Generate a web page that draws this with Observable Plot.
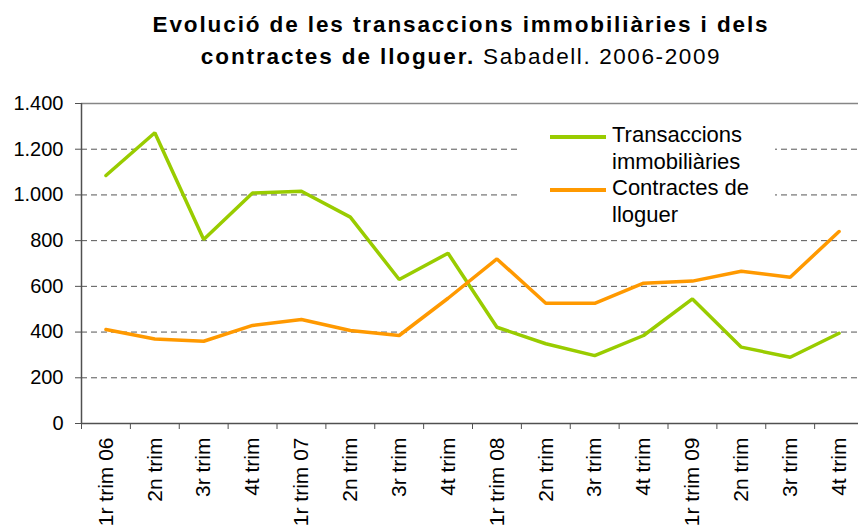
<!DOCTYPE html>
<html>
<head>
<meta charset="utf-8">
<script src="https://cdn.jsdelivr.net/npm/d3@7"></script>
<script src="https://cdn.jsdelivr.net/npm/@observablehq/plot@0.6"></script>
<style>
  html, body { margin: 0; padding: 0; background: #fff; }
  #wrap { position: relative; width: 858px; height: 525px; overflow: hidden; font-family: "Liberation Sans", Arial, sans-serif; color: #000; }
  #title { position: relative; height: 80px; }
  #title .t { position: absolute; left: 64px; width: 794px; top: 9px; text-align: center; font-size: 22.5px; line-height: 32px; letter-spacing: 1.6px; white-space: nowrap; }
  #title .t b { letter-spacing: 1.9px; }
  #legend { position: absolute; left: 519px; top: 115px; width: 256px; height: 114px; background: #fff; }
  .item { position: absolute; left: 0; width: 256px; }
  .sw { position: absolute; left: 31px; width: 56px; height: 4px; }
  .lab { position: absolute; left: 93px; width: 150px; font-size: 22px; line-height: 26.5px; white-space: normal; }
</style>
</head>
<body>
<div id="wrap">
  <div id="title"><div class="t"><b>Evolució de les transaccions immobiliàries i dels</b><br><b>contractes de lloguer.</b> Sabadell. 2006-2009</div></div>
  <div id="chart"></div>
  <div id="legend"></div>
</div>
<script>
const categories = ["1r trim 06","2n trim","3r trim","4t trim","1r trim 07","2n trim","3r trim","4t trim","1r trim 08","2n trim","3r trim","4t trim","1r trim 09","2n trim","3r trim","4t trim"];
const transaccions = [1085,1272,805,1008,1016,903,630,745,421,349,297,385,545,334,290,395];
const contractes = [411,370,360,429,455,407,385,548,720,526,526,614,623,666,640,840];
const seriesNames = ["Transaccions immobiliàries","Contractes de lloguer"];
const yTicks = [0,200,400,600,800,1000,1200,1400];

const seriesColors = ["#99CC00","#FF9900"];
const fontFamily = '"Liberation Sans", Arial, sans-serif';

const data = [];
[transaccions, contractes].forEach((vals, s) => {
  vals.forEach((v, i) => data.push({series: seriesNames[s], pos: i + 0.5, value: v}));
});

const caLocale = d3.formatLocale({decimal: ",", thousands: ".", grouping: [3], currency: ["", " €"]});
const fmt = caLocale.format(",d");

const chart = Plot.plot({
  width: 858,
  height: 445,
  marginTop: 23,
  marginBottom: 102,
  marginLeft: 81,
  marginRight: -5,
  x: {domain: [0, categories.length], axis: null, label: null},
  y: {domain: [0, 1400], axis: null, label: null},
  color: {domain: seriesNames, range: seriesColors},
  style: {fontFamily, fontSize: "20px", color: "#000", background: "white", overflow: "visible"},
  marks: [
    Plot.ruleY(yTicks.filter(d => d > 0 && d < 1400), {stroke: "#555555", strokeDasharray: "6,4", strokeWidth: 1}),
    Plot.ruleY([1400], {stroke: "#868686", strokeWidth: 1.5}),
    Plot.axisY({ticks: yTicks, tickSize: 6, tickPadding: 12, tickFormat: fmt, fontSize: 20, stroke: "#505050", label: null}),
    Plot.axisX({ticks: d3.range(categories.length + 1), tickSize: 6, tickFormat: () => "", stroke: "#505050", label: null}),
    Plot.axisX({ticks: categories.map((d, i) => i + 0.5), tickSize: 0, tickPadding: 14, tickRotate: -90, tickFormat: d => categories[Math.floor(d)], fontSize: 21, label: null}),
    Plot.ruleX([0], {y1: 0, y2: 1400, stroke: "#505050", strokeWidth: 1.5}),
    Plot.ruleY([0], {stroke: "#505050", strokeWidth: 1.5}),
    Plot.line(data, {x: "pos", y: "value", z: "series", stroke: "series", strokeWidth: 3.5, strokeLinejoin: "miter"})
  ]
});
document.getElementById("chart").appendChild(chart);

// legend
const legend = document.getElementById("legend");
seriesNames.forEach((name, i) => {
  const item = document.createElement("div");
  item.className = "item";
  item.style.top = (7.4 + i * 53) + "px";
  const sw = document.createElement("div");
  sw.className = "sw";
  sw.style.top = "12.3px";
  sw.style.background = seriesColors[i];
  const lab = document.createElement("div");
  lab.className = "lab";
  lab.style.top = "0px";
  lab.textContent = name;
  item.appendChild(sw);
  item.appendChild(lab);
  legend.appendChild(item);
});
</script>
</body>
</html>
